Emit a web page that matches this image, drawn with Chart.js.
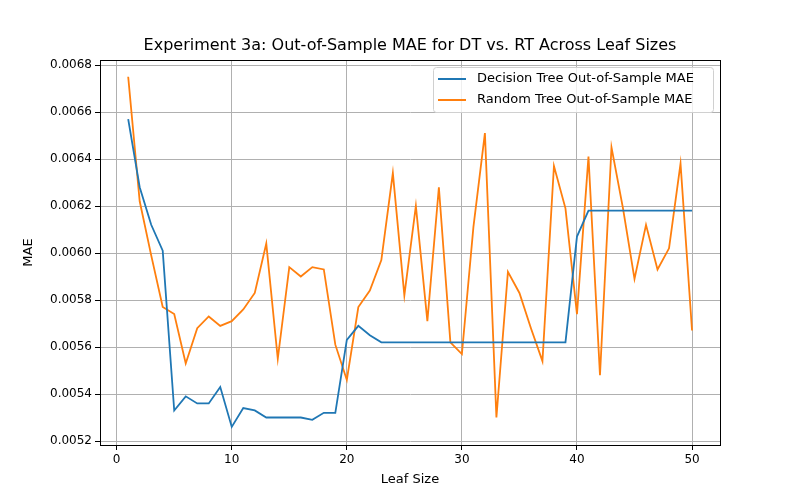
<!DOCTYPE html>
<html>
<head>
<meta charset="utf-8">
<script src="https://cdn.jsdelivr.net/npm/chart.js@4/dist/chart.umd.min.js"></script>
<style>
  html, body { margin: 0; padding: 0; background: #fff; }
  #wrap { width: 800px; height: 500px; }
</style>
</head>
<body>
<div id="wrap"><canvas id="chart" width="800" height="500"></canvas></div>
<script>
const leafSizes = Array.from({ length: 50 }, (_, i) => i + 1);

const dtMae = [
	0.00657, 0.00628, 0.00612, 0.00601, 0.00533, 0.00539, 0.00536, 0.00536, 0.00543, 0.00526,
	0.00534, 0.00533, 0.00530, 0.00530, 0.00530, 0.00530, 0.00529, 0.00532, 0.00532, 0.00563,
	0.00569, 0.00565, 0.00562, 0.00562, 0.00562, 0.00562, 0.00562, 0.00562, 0.00562, 0.00562,
	0.00562, 0.00562, 0.00562, 0.00562, 0.00562, 0.00562, 0.00562, 0.00562, 0.00562, 0.00607,
	0.00618, 0.00618, 0.00618, 0.00618, 0.00618, 0.00618, 0.00618, 0.00618, 0.00618, 0.00618,
];

const rtMae = [
	0.00675, 0.00622, 0.00599, 0.00577, 0.00574, 0.00553, 0.00568, 0.00573, 0.00569, 0.00571,
	0.00576, 0.00583, 0.00604, 0.00555, 0.00594, 0.00590, 0.00594, 0.00593, 0.00561, 0.00546,
	0.00577, 0.00584, 0.00597, 0.00634, 0.00582, 0.00620, 0.00571, 0.00628, 0.00562, 0.00557,
	0.00611, 0.00651, 0.00530, 0.00592, 0.00583, 0.00568, 0.00554, 0.00637, 0.00619, 0.00574,
	0.00641, 0.00548, 0.00645, 0.00619, 0.00589, 0.00612, 0.00593, 0.00602, 0.00638, 0.00567,
];

const xTicks = [0, 10, 20, 30, 40, 50];
const yTicks = [0.0052, 0.0054, 0.0056, 0.0058, 0.006, 0.0062, 0.0064, 0.0066, 0.0068];
const seriesNames = ["Decision Tree Out-of-Sample MAE", "Random Tree Out-of-Sample MAE"];
const blue = "#1f77b4";
const orange = "#ff7f0e";
const fontFamily = "'DejaVu Sans', sans-serif";

const toPoints = (ys) => ys.map((y, i) => ({ x: leafSizes[i], y }));

// title, axis titles, frame and legend drawn by hand, matplotlib-style
const overlay = {
	id: "overlay",
	afterDraw(chart) {
		const { ctx, chartArea } = chart;
		const { left, right, top, bottom } = chartArea;
		ctx.save();
		ctx.strokeStyle = "#000";
		ctx.lineWidth = 1;
		ctx.strokeRect(left + 0.5, top + 0.5, right - left, bottom - top);

		ctx.fillStyle = "#000";
		ctx.font = "16px " + fontFamily;
		ctx.textAlign = "center";
		ctx.textBaseline = "bottom";
		ctx.fillText("Experiment 3a: Out-of-Sample MAE for DT vs. RT Across Leaf Sizes", (left + right) / 2, top - 6);

		ctx.font = "13px " + fontFamily;
		ctx.textBaseline = "middle";
		ctx.fillText("Leaf Size", (left + right) / 2, 480);
		ctx.save();
		ctx.translate(29, (top + bottom) / 2);
		ctx.rotate(-Math.PI / 2);
		ctx.fillText("MAE", 0, 0);
		ctx.restore();

		const x0 = 433, y0 = 67, w = 280, h = 45;
		ctx.fillStyle = "rgba(255,255,255,0.8)";
		ctx.strokeStyle = "#d0d0d0";
		ctx.beginPath();
		ctx.roundRect(x0 + 0.5, y0 + 0.5, w, h, 3);
		ctx.fill();
		ctx.stroke();
		ctx.textAlign = "left";
		[blue, orange].forEach((c, i) => {
			const y = y0 + 12 + i * 21;
			ctx.strokeStyle = c;
			ctx.lineWidth = 2;
			ctx.beginPath();
			ctx.moveTo(x0 + 5, y);
			ctx.lineTo(x0 + 33, y);
			ctx.stroke();
			ctx.fillStyle = "#000";
			ctx.fillText(seriesNames[i], x0 + 44, y);
		});
		ctx.restore();
	},
};

new Chart(document.getElementById("chart"), {
	type: "line",
	data: {
		datasets: [
			{ label: seriesNames[0], data: toPoints(dtMae), borderColor: blue, borderWidth: 1.8, pointRadius: 0, tension: 0 },
			{ label: seriesNames[1], data: toPoints(rtMae), borderColor: orange, borderWidth: 1.8, pointRadius: 0, tension: 0 },
		],
	},
	options: {
		responsive: false,
		animation: false,
		layout: { padding: { left: 0, top: 60, right: 80, bottom: 0 } },
		plugins: { legend: { display: false }, tooltip: { enabled: false } },
		scales: {
			x: {
				type: "linear",
				min: -1.45,
				max: 52.43,
				afterFit: (s) => { s.height = 55; },
				border: { color: "#000", width: 1 },
				grid: { color: "#b0b0b0", tickLength: 5, tickColor: "#000" },
				afterBuildTicks: (s) => { s.ticks = xTicks.map((v) => ({ value: v })); },
				ticks: { color: "#000", font: { family: fontFamily, size: 12 } },
			},
			y: {
				min: 0.005183,
				max: 0.0068213,
				afterFit: (s) => { s.width = 100; },
				border: { color: "#000", width: 1 },
				grid: { color: "#b0b0b0", tickLength: 5, tickColor: "#000" },
				afterBuildTicks: (s) => { s.ticks = yTicks.map((v) => ({ value: v })); },
				ticks: {
					color: "#000",
					font: { family: fontFamily, size: 12 },
					callback: (v) => v.toFixed(4),
				},
			},
		},
	},
	plugins: [overlay],
});
</script>
</body>
</html>
